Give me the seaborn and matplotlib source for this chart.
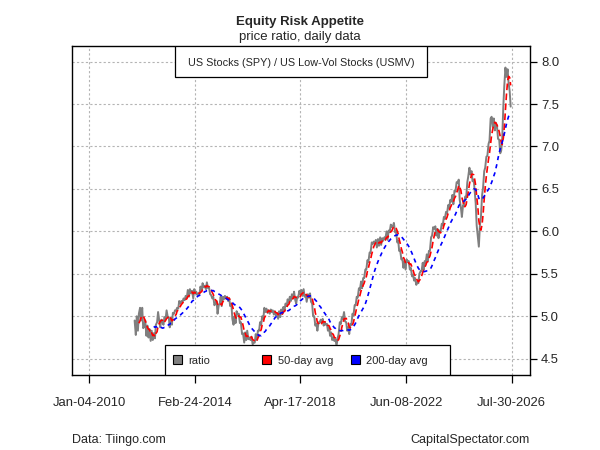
import matplotlib
matplotlib.use("Agg")
from matplotlib import pyplot as plt
import matplotlib.patches as mpatches
import numpy as np
import pandas as pd
import seaborn as sns

# SPY / USMV price ratio at semi-monthly steps
start_date = "2011-10-15"
ratio_2011 = [4.95, 4.78, 5.00, 4.83, 5.03]
ratio_2012 = [5.10, 4.95, 5.10, 4.86, 4.88, 4.95, 4.77, 4.89, 4.75, 4.85, 4.71, 4.83,
              4.72, 4.80, 4.74, 4.90, 4.93, 5.05, 4.95, 4.87, 4.96, 4.94, 4.90, 4.99]
ratio_2013 = [4.97, 5.07, 4.99, 4.99, 4.87, 4.98, 4.90, 5.04, 5.03, 5.07, 5.07, 5.10,
              5.09, 5.18, 5.15, 5.18, 5.17, 5.21, 5.19, 5.24, 5.22, 5.31, 5.23, 5.32]
ratio_2014 = [5.27, 5.30, 5.21, 5.32, 5.27, 5.29, 5.25, 5.27, 5.26, 5.35, 5.31, 5.39,
              5.34, 5.36, 5.32, 5.40, 5.33, 5.34, 5.26, 5.25, 5.21, 5.23, 5.13, 5.15]
ratio_2015 = [5.18, 5.03, 5.13, 5.15, 5.23, 5.12, 5.23, 5.20, 5.24, 5.21, 5.23, 5.18,
              5.21, 5.12, 5.15, 4.97, 4.90, 5.00, 4.92, 5.06, 5.02, 5.03, 4.92, 4.93]
ratio_2016 = [4.79, 4.80, 4.69, 4.81, 4.72, 4.83, 4.73, 4.75, 4.72, 4.76, 4.67, 4.69,
              4.69, 4.79, 4.72, 4.83, 4.83, 4.93, 4.90, 5.00, 4.97, 5.10, 5.05, 5.09]
ratio_2017 = [5.04, 5.07, 5.03, 5.08, 5.05, 5.07, 5.02, 5.06, 5.01, 5.04, 4.97, 5.06,
              4.99, 5.08, 5.03, 5.11, 5.07, 5.15, 5.12, 5.20, 5.16, 5.23, 5.18, 5.26]
ratio_2018 = [5.21, 5.29, 5.19, 5.15, 5.23, 5.22, 5.30, 5.26, 5.31, 5.24, 5.32, 5.23,
              5.25, 5.17, 5.26, 5.22, 5.27, 5.17, 5.15, 5.00, 5.00, 4.89, 4.91, 4.83]
ratio_2019 = [4.93, 4.92, 4.96, 4.93, 4.97, 4.89, 4.93, 4.90, 4.91, 4.83, 4.87, 4.77,
              4.81, 4.72, 4.75, 4.71, 4.73, 4.65, 4.74, 4.79, 4.93, 4.91, 4.99, 4.97]
ratio_2020 = [5.05, 4.94, 4.93, 4.83, 4.87, 4.79, 4.91, 4.90, 5.03, 5.01, 5.13, 5.13,
              5.23, 5.22, 5.33, 5.31, 5.41, 5.33, 5.45, 5.45, 5.55, 5.55, 5.66, 5.64]
ratio_2021 = [5.75, 5.75, 5.87, 5.85, 5.88, 5.86, 5.90, 5.81, 5.91, 5.83, 5.93, 5.84,
              5.92, 5.89, 5.93, 5.91, 6.00, 5.90, 6.01, 5.99, 6.08, 6.05, 6.06, 6.10]
ratio_2022 = [5.99, 6.00, 5.87, 5.89, 5.77, 5.78, 5.67, 5.68, 5.57, 5.65, 5.55, 5.67,
              5.64, 5.65, 5.55, 5.57, 5.47, 5.49, 5.42, 5.45, 5.37, 5.40, 5.39, 5.50]
ratio_2023 = [5.53, 5.53, 5.63, 5.55, 5.65, 5.63, 5.73, 5.65, 5.77, 5.77, 5.93, 5.95,
              6.05, 6.03, 6.06, 5.95, 6.03, 5.92, 6.01, 6.00, 6.09, 6.07, 6.17, 6.15]
ratio_2024 = [6.23, 6.21, 6.31, 6.27, 6.37, 6.35, 6.43, 6.32, 6.48, 6.47, 6.58, 6.57,
              6.61, 6.37, 6.28, 6.17, 6.31, 6.30, 6.41, 6.39, 6.58, 6.65, 6.75, 6.67]
ratio_2025 = [6.71, 6.59, 6.61, 6.47, 6.33, 6.07, 5.93, 5.82, 6.08, 6.17, 6.43, 6.52,
              6.71, 6.75, 6.88, 6.89, 7.03, 7.07, 7.33, 7.35, 7.23, 7.33, 7.19, 7.28]
ratio_2026 = [7.23, 7.09, 7.08, 6.92, 6.95, 7.07, 7.48, 7.72, 7.93, 7.82, 7.91, 7.75,
              7.65, 7.47]

tick_dates = ["2010-01-04", "2014-02-24", "2018-04-17", "2022-06-08", "2026-07-30"]
tick_labels = ["Jan-04-2010", "Feb-24-2014", "Apr-17-2018", "Jun-08-2022", "Jul-30-2026"]
y_ticks = [4.5, 5.0, 5.5, 6.0, 6.5, 7.0, 7.5, 8.0]
legend_labels = ["ratio", "50-day avg", "200-day avg"]
legend_colors = ["#7f7f7f", "red", "blue"]

ratio = (ratio_2011 + ratio_2012 + ratio_2013 + ratio_2014 + ratio_2015 + ratio_2016
         + ratio_2017 + ratio_2018 + ratio_2019 + ratio_2020 + ratio_2021 + ratio_2022
         + ratio_2023 + ratio_2024 + ratio_2025 + ratio_2026)
dates = pd.date_range(start_date, periods=len(ratio), freq="SMS")
df = pd.DataFrame({"date": dates, "ratio": ratio})
# 50 trading days ~ 5 semi-month steps, 200 trading days ~ 19 steps
df["ma50"] = df["ratio"].rolling(5).mean()
df["ma200"] = df["ratio"].rolling(19).mean()

sns.set_style("white")
plt.rcParams["font.family"] = ["Liberation Sans", "DejaVu Sans"]

fig = plt.figure(figsize=(6, 4.5), dpi=100)
ax = fig.add_axes([0.12, 0.167, 0.763, 0.731])

sns.lineplot(data=df, x="date", y="ratio", color="#7f7f7f", lw=1.4, ax=ax)
sns.lineplot(data=df, x="date", y="ma50", color="red", lw=1.2, ax=ax)
sns.lineplot(data=df, x="date", y="ma200", color="blue", lw=1.2, ax=ax)
ax.lines[1].set_dashes((4, 2))
ax.lines[2].set_dashes((2.5, 2.5))

ax.set_xlim(pd.Timestamp("2009-05-01"), pd.Timestamp("2027-04-15"))
ax.set_ylim(4.31, 8.185)
ax.set_xticks(pd.to_datetime(tick_dates))
ax.set_xticklabels(tick_labels)
ax.set_yticks(y_ticks)
ax.set_yticklabels([f"{v:.1f}" for v in y_ticks])
ax.yaxis.tick_right()
ax.set_xlabel("")
ax.set_ylabel("")
ax.tick_params(axis="x", direction="out", length=6, width=0.9, pad=10,
               labelsize=9.4, bottom=True, color="black")
ax.tick_params(axis="y", direction="out", length=5, width=0.9, pad=3,
               labelsize=9.4, right=True, color="black")
ax.grid(True, color="#b4b4b4", linestyle=(0, (2, 2)), lw=0.8)
for sp in ax.spines.values():
    sp.set_color("black")
    sp.set_linewidth(1.0)

# top label box
box_h = 31 / 329
ax.add_patch(mpatches.Rectangle((0.225, 1 - box_h), 0.55, box_h, transform=ax.transAxes,
                                facecolor="white", edgecolor="black", lw=0.9, zorder=5))
ax.text(0.5, 1 - box_h / 2 - 0.004, "US Stocks (SPY) / US Low-Vol Stocks (USMV)",
        transform=ax.transAxes, ha="center", va="center", fontsize=7.8, zorder=6)

# bottom legend box, equal-width columns like R's legend()
leg_h = 30 / 329
ax.add_patch(mpatches.Rectangle((0.203, 0), 0.622, leg_h, transform=ax.transAxes,
                                facecolor="white", edgecolor="black", lw=0.9, zorder=5))
sq_w, sq_h = 9 / 458, 9 / 329
for i, (lab, col) in enumerate(zip(legend_labels, legend_colors)):
    x0 = 0.231 + i * 0.194
    ax.add_patch(mpatches.Rectangle((x0 - sq_w / 2, leg_h / 2 - sq_h / 2), sq_w, sq_h,
                                    transform=ax.transAxes, facecolor=col,
                                    edgecolor="black", lw=0.8, zorder=6))
    ax.text(x0 + 0.024, leg_h / 2 - 0.003, lab, transform=ax.transAxes, ha="left",
            va="center", fontsize=8, zorder=6)

fig.text(0.5, 0.951, "Equity Risk Appetite", ha="center", va="center",
         fontsize=9.5, fontweight="bold")
fig.text(0.5, 0.918, "price ratio, daily data", ha="center", va="center", fontsize=9.5)
fig.text(0.12, 0.022, "Data: Tiingo.com", ha="left", va="center", fontsize=9)
fig.text(0.883, 0.022, "CapitalSpectator.com", ha="right", va="center", fontsize=9)

fig.savefig("out.png", dpi=100)
